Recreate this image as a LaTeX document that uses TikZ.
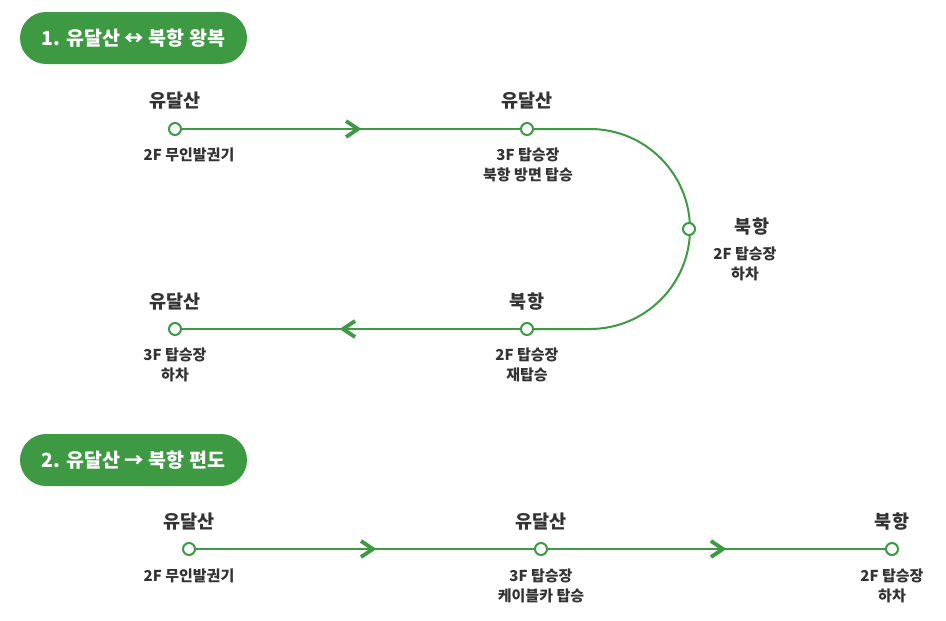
\documentclass[tikz,border=0pt]{standalone}
\usepackage{fontspec}
\setmainfont{Noto Sans CJK KR}
\usetikzlibrary{calc}
\pgfdeclarelayer{bg}
\pgfsetlayers{bg,main}
\definecolor{grn}{RGB}{61,153,66}
\definecolor{txt}{RGB}{51,51,51}
\begin{document}
\begin{tikzpicture}[x=1pt,y=-1pt,
  pill/.style={fill=grn,rounded corners=26pt,minimum width=227pt,minimum height=52pt,text=white,font=\fontsize{19.5}{22}\selectfont\bfseries,inner sep=0pt},
  stn/.style={circle,draw=grn,fill=white,line width=2pt,minimum size=12pt,inner sep=0pt},
  nm/.style={text=txt,font=\fontsize{18.5}{22}\selectfont\bfseries,inner sep=0pt},
  sub/.style={text=txt,font=\fontsize{15}{20}\selectfont\bfseries,align=center,inner sep=0pt,anchor=north},
  ln/.style={draw=grn,line width=2pt},
  chev/.style={draw=grn,line width=3.8pt,line cap=butt,line join=miter}]
\useasboundingbox (0,0) rectangle (946,621);
% pills
\node[pill] (p1) at (133.5,38) {1. 유달산 ↔ 북항 왕복};
\node[pill] (p2) at (133.5,460) {2. 유달산 → 북항 편도};
% section 1
\coordinate (bendA) at (590,129);
\coordinate (bendB) at (590,329);
\node[stn] (a1) at (175,129) {};
\node[stn] (a2) at (527,129) {};
\node[stn] (a3) at (689,229) {};
\node[stn] (a4) at (527,329) {};
\node[stn] (a5) at (175,329) {};
\begin{pgfonlayer}{bg}
\draw[ln] (a1.center) -- (a2.center);
\draw[ln] (a2.center) -- (bendA) arc[start angle=90,end angle=-90,radius=100pt] -- (a4.center);
\draw[ln] (a4.center) -- (a5.center);
\end{pgfonlayer}
\coordinate (c1) at (358,129);
\coordinate (c2) at (343,329);
\draw[chev] ($(c1)+(-12,-8)$) -- (c1) -- ($(c1)+(-12,8)$);
\draw[chev] ($(c2)+(12,-8)$) -- (c2) -- ($(c2)+(12,8)$);
\node[nm] (n1) at (175,101) {유달산};
\node[sub] (s1) at (189,148) {2F 무인발권기};
\node[nm] (n2) at (527,101) {유달산};
\node[sub] (s2) at (528,148) {3F 탑승장\\북항 방면 탑승};
\node[nm] (n3) at (752,227) {북항};
\node[sub] (s3) at (745,247) {2F 탑승장\\하차};
\node[nm] (n4) at (527,302) {북항};
\node[sub] (s4) at (527,348) {2F 탑승장\\재탑승};
\node[nm] (n5) at (175,302) {유달산};
\node[sub] (s5) at (175,348) {3F 탑승장\\하차};
% section 2
\node[stn] (b1) at (189,549) {};
\node[stn] (b2) at (541,549) {};
\node[stn] (b3) at (892,549) {};
\begin{pgfonlayer}{bg}
\draw[ln] (b1.center) -- (b2.center);
\draw[ln] (b2.center) -- (b3.center);
\end{pgfonlayer}
\coordinate (c3) at (373,549);
\coordinate (c4) at (723,549);
\draw[chev] ($(c3)+(-12,-8)$) -- (c3) -- ($(c3)+(-12,8)$);
\draw[chev] ($(c4)+(-12,-8)$) -- (c4) -- ($(c4)+(-12,8)$);
\node[nm] (m1) at (189,522) {유달산};
\node[sub] (t1) at (189,569) {2F 무인발권기};
\node[nm] (m2) at (541,522) {유달산};
\node[sub] (t2) at (541,569) {3F 탑승장\\케이블카 탑승};
\node[nm] (m3) at (892,522) {북항};
\node[sub] (t3) at (892,569) {2F 탑승장\\하차};
\end{tikzpicture}
\end{document}
